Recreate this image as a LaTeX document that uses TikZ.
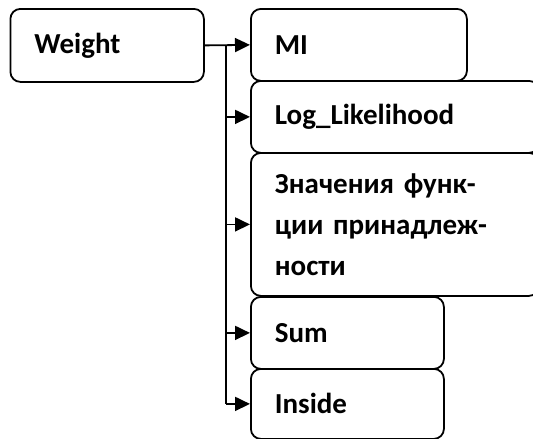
\documentclass[tikz,border=0pt]{standalone}
\usepackage{fontspec}
\setmainfont{Carlito}
\usetikzlibrary{arrows.meta}
\begin{document}
\begin{tikzpicture}[x=1pt,y=-1pt,
  box/.style={draw=black, line width=1.8pt, rounded corners=10pt, anchor=north west,
    align=left, inner xsep=24pt, inner ysep=0pt, font=\fontsize{29}{41}\selectfont\bfseries},
  conn/.style={line width=1.8pt, -{Triangle[length=15pt,width=14pt]}},
  bus/.style={line width=1.8pt}]
\useasboundingbox (0,0) rectangle (533,439);
\node[box, text width=145.5pt, minimum height=73pt] (w) at (9.5,8) {Weight};
\node[box, text width=168pt, minimum height=72pt] (mi) at (250,8) {MI};
\node[box, text width=240pt, minimum height=72pt] (ll) at (250,80) {Log\_Likelihood};
\node[box, text width=240pt, minimum height=143pt] (zn) at (250,152) {Значения функ-\\ции принадлеж-\\ности};
\node[box, text width=145pt, minimum height=72pt] (sum) at (250,296) {Sum};
\node[box, text width=145pt, minimum height=70pt] (ins) at (250,368) {Inside};
\coordinate (j) at (226,0);
\coordinate (top) at (j |- w.east);
\draw[conn] (w.east) -- (mi.west);
\draw[bus] (top) -- (top |- ins.west);
\draw[conn] (top |- ll.west) -- (ll.west);
\draw[conn] (top |- zn.west) -- (zn.west);
\draw[conn] (top |- sum.west) -- (sum.west);
\draw[conn] (top |- ins.west) -- (ins.west);
\end{tikzpicture}
\end{document}
